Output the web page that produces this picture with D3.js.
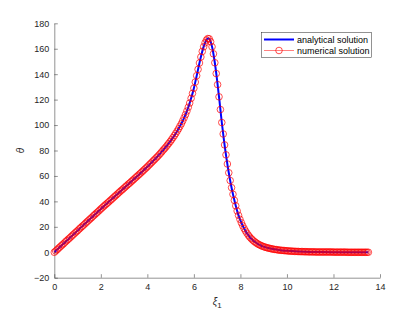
<!DOCTYPE html>
<html>
<head>
<meta charset="utf-8">
<script src="https://cdn.jsdelivr.net/npm/d3@7"></script>
<style>
  body { margin: 0; background: #fff; }
  svg { display: block; font-family: "Liberation Sans", Arial, sans-serif; }
  .axis path, .axis line { stroke: #262626; stroke-width: 0.5; }
  .axis text { fill: #262626; font-size: 9px; }
</style>
</head>
<body>
<svg id="chart" width="420" height="315"></svg>
<script>
// analytical solution (knots)
var anaXi = [0, 0.5, 1, 1.5, 2, 2.5, 3, 3.5, 4, 4.5, 5, 5.2, 5.4, 5.6, 5.7, 5.8, 5.9, 6.0, 6.1, 6.2, 6.3, 6.4, 6.5, 6.6, 6.65,
  6.7, 6.8, 6.9, 7.0, 7.1, 7.2, 7.3, 7.4, 7.5, 7.6, 7.7, 7.8, 7.9, 8.0, 8.1, 8.2, 8.3, 8.4, 8.5, 8.6, 8.7, 8.8,
  8.9, 9.0, 9.2, 9.4, 9.6, 9.8, 10, 10.5, 11, 11.5, 12, 12.5, 13, 13.5];
var anaTheta = [0, 8.5, 17, 25.5, 34, 42.3, 50.5, 58.7, 67.2, 76.5, 87.5, 92.8, 99, 106.5, 111, 116.2, 122.2, 129, 137, 145.5, 153.5, 160.5, 165.5, 168, 168,
  166.5, 160, 149, 135, 119, 102, 87, 74, 62.5, 52.5, 44, 36.5, 30, 25, 20.8, 17.3, 14.4, 12, 10, 8.4, 7.1, 6,
  5.1, 4.4, 3.3, 2.5, 1.9, 1.4, 1.1, 0.6, 0.3, 0.2, 0.1, 0.05, 0, 0];

// numerical solution, uniform grid from 0 with this step
var numXiStep = 0.06;
var numTheta = [
  0, 1.0, 2.0, 3.1, 4.1, 5.1, 6.1, 7.1, 8.2, 9.2, 10.2, 11.2, 12.2, 13.3, 14.3, 15.3, 16.3,
  17.3, 18.4, 19.4, 20.4, 21.4, 22.4, 23.5, 24.5, 25.5, 26.5, 27.5, 28.6, 29.6, 30.6, 31.6, 32.6, 33.7,
  34.7, 35.7, 36.7, 37.7, 38.6, 39.6, 40.6, 41.6, 42.6, 43.6, 44.6, 45.6, 46.6, 47.6, 48.6, 49.5,
  50.5, 51.5, 52.5, 53.5, 54.4, 55.4, 56.4, 57.4, 58.4, 59.4, 60.4, 61.4, 62.4, 63.4, 64.5, 65.5, 66.5,
  67.6, 68.7, 69.8, 70.9, 72.0, 73.1, 74.2, 75.3, 76.5, 77.7, 79.0, 80.3, 81.5, 82.8, 84.2, 85.6, 87.0,
  88.5, 90.1, 91.7, 93.4, 95.2, 97.0, 99.0, 101.0, 103.3, 105.7, 108.2, 111.0, 114.0, 117.3, 121.0, 124.9,
  129.0, 133.8, 138.8, 143.8, 148.8, 153.5, 157.9, 161.6, 164.6, 166.8, 168.0, 167.8, 165.5, 161.5, 156.0,
  149.0, 140.5, 131.8, 122.2, 112.2, 102.0, 93.0, 84.4, 76.6, 69.4, 62.5, 56.4, 50.8, 45.6, 40.8, 36.5,
  32.5, 29.0, 25.9, 23.2, 20.8, 18.6, 16.7, 15.0, 13.4, 12.0, 10.8, 9.7, 8.7, 7.9, 7.1, 6.4, 5.8, 5.3,
  4.8, 4.4, 4.0, 3.7, 3.4, 3.1, 2.9, 2.6, 2.4, 2.2, 2.1, 1.9, 1.7, 1.6, 1.5, 1.4, 1.3, 1.2, 1.1, 1.0,
  0.9, 0.9, 0.8, 0.7, 0.7, 0.6, 0.6, 0.5, 0.5, 0.5, 0.4, 0.4, 0.4, 0.3, 0.3, 0.3, 0.3, 0.3,
  0.2, 0.2, 0.2, 0.2, 0.2, 0.2, 0.2, 0.2, 0.2, 0.2, 0.2, 0.2, 0.2,
  0.1, 0.1, 0.1, 0.1, 0.1, 0.1, 0.1, 0.1, 0.1, 0.1,
  0, 0, 0, 0, 0, 0, 0, 0, 0, 0, 0, 0, 0, 0, 0, 0];

var xTicks = [0, 2, 4, 6, 8, 10, 12, 14];
var yTicks = [-20, 0, 20, 40, 60, 80, 100, 120, 140, 160, 180];
var seriesNames = ["analytical solution", "numerical solution"];

var svg = d3.select("#chart");

var x = d3.scaleLinear().domain([0, 14]).range([54.3, 380]);
var y = d3.scaleLinear().domain([-20, 180]).range([277.7, 23.3]);

// axes (ticks point inward, like matlab)
svg.append("g")
    .attr("class", "axis")
    .attr("transform", "translate(0," + y(-20) + ")")
    .call(d3.axisBottom(x).tickValues(xTicks).tickSizeInner(-3.5).tickSizeOuter(0).tickPadding(6));

svg.append("g")
    .attr("class", "axis")
    .attr("transform", "translate(" + x(0) + ",0)")
    .call(d3.axisLeft(y).tickValues(yTicks).tickSizeInner(-3.5).tickSizeOuter(0).tickPadding(5));

// analytical line
var ana = anaXi.map(function(d, i) { return [d, anaTheta[i]]; });
var line = d3.line()
    .x(function(d) { return x(d[0]); })
    .y(function(d) { return y(d[1]); })
    .curve(d3.curveMonotoneX);

svg.append("path")
    .datum(ana)
    .attr("fill", "none")
    .attr("stroke", "#0000ff")
    .attr("stroke-width", 2)
    .attr("d", line);

// numerical markers
var num = numTheta.map(function(d, i) { return [i * numXiStep, d]; });
svg.append("g")
    .selectAll("circle")
    .data(num)
    .enter().append("circle")
    .attr("cx", function(d) { return x(d[0]); })
    .attr("cy", function(d) { return y(d[1]); })
    .attr("r", 3.3)
    .attr("fill", "none")
    .attr("stroke", "#ff0000")
    .attr("stroke-width", 0.7);

// axis labels
svg.append("text")
    .attr("transform", "translate(24," + ((y(-20) + y(180)) / 2) + ") rotate(-90)")
    .attr("text-anchor", "middle")
    .style("font-size", "10px")
    .style("font-style", "italic")
    .style("fill", "#262626")
    .text("θ");

var xl = svg.append("text")
    .attr("x", (x(0) + x(14)) / 2)
    .attr("y", 305)
    .attr("text-anchor", "middle")
    .style("font-size", "10px")
    .style("fill", "#262626");
xl.append("tspan").style("font-style", "italic").text("ξ");
xl.append("tspan").attr("dy", 3).style("font-size", "8px").text("1");

// legend
var legend = svg.append("g").attr("class", "legend");
legend.append("rect")
    .attr("x", 261.5).attr("y", 32.5)
    .attr("width", 110).attr("height", 25)
    .attr("fill", "#fff")
    .attr("stroke", "#262626")
    .attr("stroke-width", 0.5);

legend.selectAll("g.entry").data(seriesNames)
    .enter().append("g")
    .attr("class", "entry")
    .each(function(d, i) {
        var g = d3.select(this);
        var cy = 39.5 + i * 11;
        g.append("line")
            .attr("x1", 264).attr("x2", 294)
            .attr("y1", cy).attr("y2", cy)
            .attr("stroke", i == 0 ? "#0000ff" : "#ff0000")
            .attr("stroke-width", i == 0 ? 2 : 0.5);
        if (i == 1) {
            g.append("circle")
                .attr("cx", 279).attr("cy", cy).attr("r", 3.3)
                .attr("fill", "none")
                .attr("stroke", "#ff0000")
                .attr("stroke-width", 0.7);
        }
        g.append("text")
            .attr("x", 297)
            .attr("y", cy)
            .attr("dy", "0.35em")
            .style("font-size", "9px")
            .style("fill", "#000")
            .text(d);
    });
</script>
</body>
</html>
